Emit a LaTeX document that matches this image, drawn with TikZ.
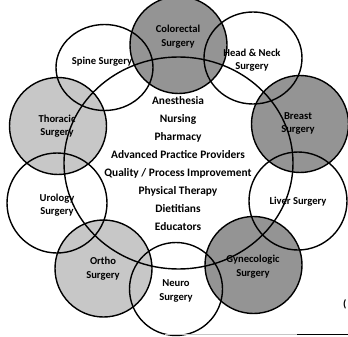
\documentclass[tikz,border=0pt]{standalone}
\usepackage{fontspec}
\setmainfont{Carlito}
\usetikzlibrary{shapes.geometric}
\definecolor{dk}{gray}{0.58}
\definecolor{lt}{gray}{0.78}
\begin{document}
\begin{tikzpicture}[x=1pt,y=-1pt,
  ringc/.style={draw=black,line width=1.4pt,circle,inner sep=0pt},
  ringe/.style={draw=black,line width=1.4pt,ellipse,inner sep=0pt},
  lbl/.style={align=center,inner sep=0pt,font=\bfseries\fontsize{10.6}{13.5}\selectfont},
  core/.style={align=center,inner sep=0pt,font=\bfseries\fontsize{11.4}{18}\selectfont}]
\useasboundingbox (0,0) rectangle (348,337);
\clip (0,0) rectangle (348,337);
\fill[white] (0,0) rectangle (348,337);
% fills of shaded circles
\fill[dk] (178.5,45) circle[radius=48.5pt];
\fill[dk] (300,124) circle[radius=48.5pt];
\fill[dk] (253.5,265) circle[radius=48.5pt];
\fill[lt] (58,126) circle[radius=48.5pt];
\fill[lt] (103.5,268.5) circle[radius=48.5pt];
% outlines
\node[ringc,minimum size=97pt] (colo) at (178.5,45) {};
\node[ringe,minimum width=98pt,minimum height=92pt] (hn) at (253,58) {};
\node[ringe,minimum width=97pt,minimum height=86pt] (spine) at (104.5,67.5) {};
\node[ringc,minimum size=97pt] (thor) at (58,126) {};
\node[ringc,minimum size=97pt] (breast) at (300,124) {};
\node[ringc,minimum size=100pt] (uro) at (57,203) {};
\node[ringc,minimum size=98pt] (liver) at (298,201) {};
\node[ringc,minimum size=97pt] (ortho) at (103.5,268.5) {};
\node[ringc,minimum size=97pt] (gyne) at (253.5,265) {};
\node[ringc,minimum size=93pt] (neuro) at (176,289) {};
\node[ringe,minimum width=229pt,minimum height=212pt] (center) at (178.5,163) {};
% labels
\node[lbl] (colo-t) at (178,36.5) {Colorectal\\Surgery};
\node[lbl] (hn-t) at (252,60) {Head \& Neck\\Surgery};
\node[lbl] (spine-t) at (102,62) {Spine Surgery};
\node[lbl] (thor-t) at (57,126) {Thoracic\\Surgery};
\node[lbl] (breast-t) at (298,123.5) {Breast\\Surgery};
\node[lbl] (uro-t) at (57,205) {Urology\\Surgery};
\node[lbl] (liver-t) at (298,202) {Liver Surgery};
\node[lbl] (ortho-t) at (103,268.5) {Ortho\\Surgery};
\node[lbl] (gyne-t) at (253,266.5) {Gynecologic\\Surgery};
\node[lbl] (neuro-t) at (176,291) {Neuro\\Surgery};
\node[core] (center-t) at (178,164) {Anesthesia\\Nursing\\Pharmacy\\Advanced Practice Providers\\Quality / Process Improvement\\Physical Therapy\\Dietitians\\Educators};
% edge artifacts
\coordinate (l1) at (165,334.5);
\coordinate (l2) at (297,334.5);
\coordinate (l3) at (348,334.5);
\draw[gray!45,line width=0.8pt] (l1) -- (l3);
\draw[black,line width=1pt] (l2) -- (l3);
\node[lbl,anchor=west] (paren) at (343,304) {(};
\end{tikzpicture}
\end{document}
